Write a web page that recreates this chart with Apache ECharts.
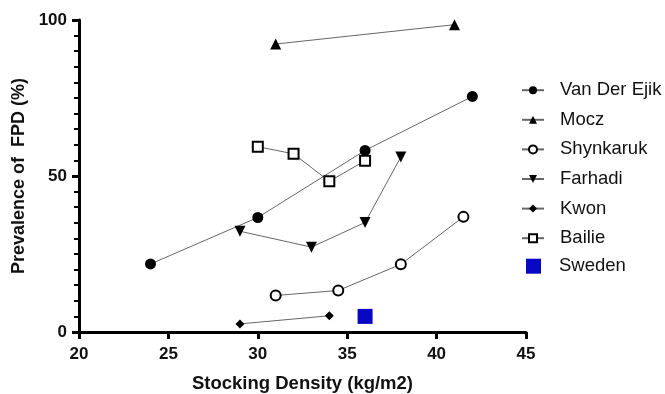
<!DOCTYPE html>
<html><head><meta charset="utf-8">
<script src="https://cdn.jsdelivr.net/npm/echarts@6/dist/echarts.min.js"></script>
<style>html,body{margin:0;padding:0;background:#fff}#c{width:665px;height:394px}</style>
</head><body><div id="c"></div>
<script>
const xTicks = [20, 25, 30, 35, 40, 45];
const yTicks = [0, 50, 100];
const vanDerEjik = [[24, 21.8], [30, 36.7], [36, 58.2], [42, 75.5]];
const mocz = [[31, 92.3], [41, 98.5]];
const shynkaruk = [[31, 11.7], [34.5, 13.3], [38, 21.7], [41.5, 36.9]];
const farhadi = [[29, 32.3], [33, 27.2], [36, 35.1], [38, 56.1]];
const kwon = [[29, 2.6], [34, 5.2]];
const bailie = [[30, 59.4], [32, 57.1], [34, 48.3], [36, 54.9]];
const sweden = [[36, 5.0]];

const font = 'Liberation Sans, Arial, sans-serif';
const blue = '#0808c4';
const chart = echarts.init(document.getElementById('c'));
const lineStyle = {color: '#666', width: 1};
function ser(name, data, symbol, size, filled, extra) {
  return Object.assign({
    name, type: 'line', data, symbol, symbolSize: size, showSymbol: true,
    lineStyle, itemStyle: filled ? {color: '#000'} : {color: '#fff', borderColor: '#000', borderWidth: 2},
    emphasis: {disabled: true}, animation: false, z: 3
  }, extra || {});
}
const legendText = {color: '#111', fontFamily: font, fontSize: 18.5};
chart.setOption({
  animation: false,
  grid: {left: 79, right: 139, top: 20, bottom: 62, containLabel: false, outerBoundsMode: 'none'},
  xAxis: {
    type: 'value', min: xTicks[0], max: xTicks[xTicks.length - 1], interval: 5,
    axisLine: {onZero: false, lineStyle: {color: '#000', width: 3}},
    axisTick: {show: true, length: 7, lineStyle: {color: '#000', width: 3}},
    splitLine: {show: false},
    axisLabel: {color: '#111', fontFamily: font, fontWeight: 'bold', fontSize: 17, margin: 14},
    name: 'Stocking Density (kg/m2)', nameLocation: 'middle', nameGap: 42,
    nameTextStyle: {color: '#111', fontFamily: font, fontWeight: 'bold', fontSize: 18.5}
  },
  yAxis: {
    type: 'value', min: yTicks[0], max: yTicks[yTicks.length - 1], interval: 50,
    axisLine: {show: true, onZero: false, lineStyle: {color: '#000', width: 3}},
    axisTick: {show: true, length: 7, lineStyle: {color: '#000', width: 3}},
    minorTick: {show: true, splitNumber: 10, length: 5, lineStyle: {color: '#000', width: 2}},
    splitLine: {show: false},
    axisLabel: {color: '#111', fontFamily: font, fontWeight: 'bold', fontSize: 17, margin: 12},
    name: 'Prevalence of  FPD (%)', nameLocation: 'middle', nameGap: 48,
    nameTextStyle: {color: '#111', fontFamily: font, fontWeight: 'bold', fontSize: 18}
  },
  legend: [{
    orient: 'vertical', left: 521, top: 80.7, padding: 0, itemGap: 10.6, itemWidth: 22, itemHeight: 10,
    textStyle: Object.assign({padding: [0, 0, 0, 11]}, legendText),
    data: ['Van Der Ejik', 'Mocz', 'Shynkaruk', 'Farhadi', 'Kwon', 'Bailie']
  }, {
    orient: 'vertical', left: 526, top: 256.7, padding: 0, itemWidth: 15, itemHeight: 15,
    textStyle: Object.assign({padding: [0, 0, 0, 13]}, legendText),
    data: [{name: 'Sweden', icon: 'rect'}]
  }],
  series: [
    ser('Van Der Ejik', vanDerEjik, 'circle', 11, true),
    ser('Mocz', mocz, 'triangle', 11, true),
    ser('Shynkaruk', shynkaruk, 'circle', 10, false),
    ser('Farhadi', farhadi, 'triangle', 11, true, {symbolRotate: 180}),
    ser('Kwon', kwon, 'diamond', 9, true),
    ser('Bailie', bailie, 'rect', 10, false),
    {name: 'Sweden', type: 'scatter', data: sweden, symbol: 'rect', symbolSize: 15,
      itemStyle: {color: blue, opacity: 1}, emphasis: {disabled: true}, z: 4}
  ]
});
</script></body></html>
